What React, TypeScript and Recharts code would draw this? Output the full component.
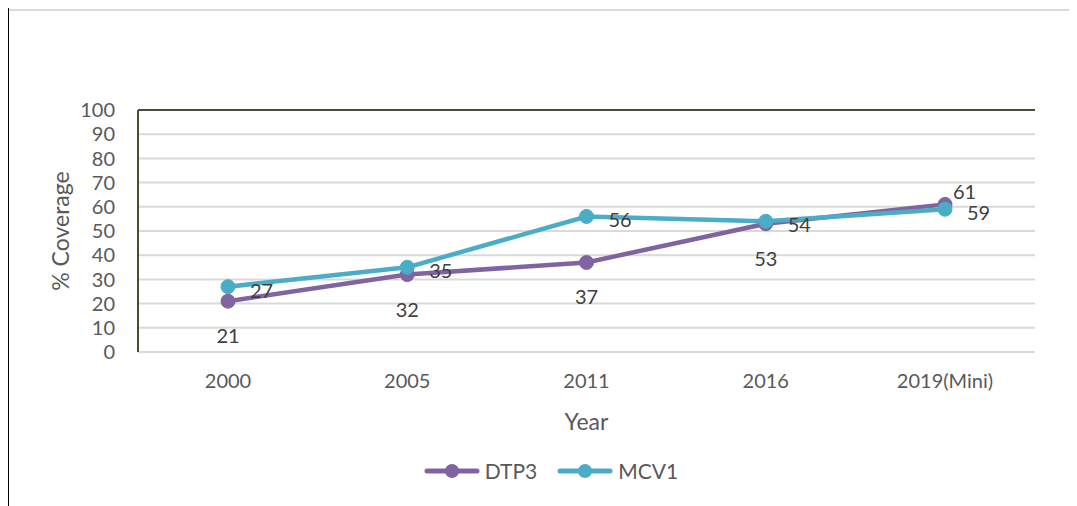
import React from 'react';
import { LineChart, Line, XAxis, YAxis, CartesianGrid, LabelList, ReferenceLine } from 'recharts';

const years = ['2000', '2005', '2011', '2016', '2019(Mini)'];
const dtp3 = [21, 32, 37, 53, 61];
const mcv1 = [27, 35, 56, 54, 59];
const yTicks = [0, 10, 20, 30, 40, 50, 60, 70, 80, 90, 100];

const PURPLE = '#8064a2';
const TEAL = '#4bacc6';
const FONT = 'Lato, "Open Sans", sans-serif';

const data = years.map((year, i) => ({ year, DTP3: dtp3[i], MCV1: mcv1[i] }));

const DtpLabel = (props: any) => {
  const { x, y, value, index } = props;
  const last = index === dtp3.length - 1;
  return (
    <text
      x={last ? x + 8 : x}
      y={last ? y - 13 : y + 34}
      textAnchor={last ? 'start' : 'middle'}
      dominantBaseline="central"
      fontSize={20}
      fontFamily={FONT}
      fill="#404040"
    >
      {value}
    </text>
  );
};

const McvLabel = (props: any) => {
  const { x, y, value } = props;
  return (
    <text x={x + 22} y={y + 3} textAnchor="start" dominantBaseline="central" fontSize={20} fontFamily={FONT} fill="#404040">
      {value}
    </text>
  );
};

const LegendItem = ({ color, name }: { color: string; name: string }) => (
  <div style={{ display: 'flex', alignItems: 'center', gap: 5 }}>
    <svg width={56} height={16}>
      <line x1={3} y1={8} x2={53} y2={8} stroke={color} strokeWidth={5} strokeLinecap="round" />
      <circle cx={28} cy={8} r={7} fill={color} />
    </svg>
    <span style={{ fontSize: 21, color: '#595959' }}>{name}</span>
  </div>
);

const App: React.FC = () => {
  return (
    <div style={{ position: 'relative', marginLeft: -8, marginTop: -8, width: 1077, height: 506, background: '#fff', fontFamily: FONT }}>
      <div style={{ position: 'absolute', left: 0, top: 0 }}>
        <LineChart width={1077} height={506} data={data} margin={{ top: 110, right: 42, left: 0, bottom: 74 }}>
          <CartesianGrid vertical={false} stroke="#d9d9d9" strokeWidth={2} />
          <ReferenceLine y={100} stroke="#4f4a35" strokeWidth={2} />
          <XAxis
            dataKey="year"
            height={80}
            padding={{ left: 90, right: 90 }}
            tickSize={0}
            tickMargin={22}
            tickLine={false}
            axisLine={{ stroke: '#d9d9d9', strokeWidth: 2 }}
            tick={{ fill: '#595959', fontSize: 20, fontFamily: FONT }}
            label={{
              content: (p: any) => (
                <text x={p.viewBox.x + p.viewBox.width / 2} y={p.viewBox.y + 69} textAnchor="middle" dominantBaseline="central" fontSize={23} fontFamily={FONT} fill="#595959">
                  Year
                </text>
              ),
            }}
          />
          <YAxis
            width={138}
            domain={[0, 100]}
            ticks={yTicks}
            interval={0}
            tickSize={0}
            tickMargin={23}
            tickLine={false}
            axisLine={{ stroke: '#4f4a35', strokeWidth: 2 }}
            tick={{ fill: '#595959', fontSize: 20, fontFamily: FONT }}
            label={{
              content: (p: any) => {
                const cx = p.viewBox.x + 60;
                const cy = p.viewBox.y + p.viewBox.height / 2;
                return (
                  <text x={cx} y={cy} transform={`rotate(-90 ${cx} ${cy})`} textAnchor="middle" dominantBaseline="central" fontSize={23} fontFamily={FONT} fill="#595959">
                    % Coverage
                  </text>
                );
              },
            }}
          />
          <YAxis yAxisId="right" orientation="right" width={0} domain={[0, 100]} tick={false} tickLine={false} axisLine={{ stroke: '#4f4a35', strokeWidth: 2 }} />
          <Line dataKey="DTP3" stroke={PURPLE} strokeWidth={4.5} dot={{ r: 7, fill: PURPLE, stroke: PURPLE, strokeWidth: 1 }} activeDot={false} isAnimationActive={false}>
            <LabelList dataKey="DTP3" content={<DtpLabel />} />
          </Line>
          <Line dataKey="MCV1" stroke={TEAL} strokeWidth={4.5} dot={{ r: 7, fill: TEAL, stroke: TEAL, strokeWidth: 1 }} activeDot={false} isAnimationActive={false}>
            <LabelList dataKey="MCV1" content={<McvLabel />} />
          </Line>
        </LineChart>
      </div>
      <div style={{ position: 'absolute', left: 0, width: 1102, top: 458, display: 'flex', justifyContent: 'center', gap: 20 }}>
        <LegendItem color={PURPLE} name="DTP3" />
        <LegendItem color={TEAL} name="MCV1" />
      </div>
      <div style={{ position: 'absolute', left: 6, top: 0, width: 3, height: 506, background: '#000', zIndex: 5 }} />
      <div style={{ position: 'absolute', left: 9, top: 9, width: 1068, height: 2, background: '#d9d9d9', zIndex: 5 }} />
    </div>
  );
};

export default App;
